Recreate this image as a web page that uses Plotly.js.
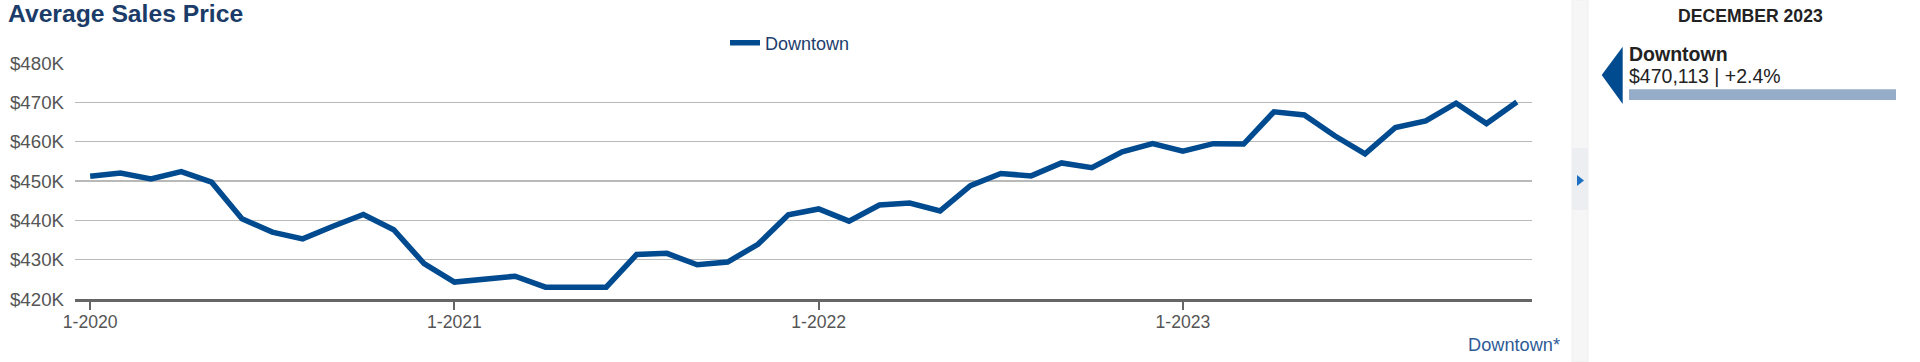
<!DOCTYPE html>
<html>
<head>
<meta charset="utf-8">
<script src="https://cdn.plot.ly/plotly-3.0.1.min.js"></script>
<style>
  html, body { margin: 0; padding: 0; background: #ffffff; }
  #chart { width: 1920px; height: 362px; }
</style>
</head>
<body>
<div id="chart"></div>
<script>
// ---- data ----
const months = [
  "1-2020","2-2020","3-2020","4-2020","5-2020","6-2020","7-2020","8-2020","9-2020","10-2020","11-2020","12-2020",
  "1-2021","2-2021","3-2021","4-2021","5-2021","6-2021","7-2021","8-2021","9-2021","10-2021","11-2021","12-2021",
  "1-2022","2-2022","3-2022","4-2022","5-2022","6-2022","7-2022","8-2022","9-2022","10-2022","11-2022","12-2022",
  "1-2023","2-2023","3-2023","4-2023","5-2023","6-2023","7-2023","8-2023","9-2023","10-2023","11-2023","12-2023"
];
// Average sales price, thousands of dollars
const downtown = [
  451.2, 452.0, 450.5, 452.4, 449.7, 440.4, 437.0, 435.3, 438.5, 441.5, 437.6, 429.0,
  424.3, 424.9, 425.8, 423.0, 423.1, 423.0, 431.3, 431.6, 428.7, 429.4, 433.9, 441.4,
  442.9, 439.8, 443.9, 444.4, 442.4, 448.8, 451.9, 451.3, 454.6, 453.4, 457.4, 459.5,
  457.6, 459.5, 459.4, 467.6, 466.8, 461.5, 456.9, 463.6, 465.3, 469.8, 464.6, 470.1
];
const seriesName = "Downtown";
const yearTicks = ["1-2020","1-2021","1-2022","1-2023"];
const yTicks = [420, 430, 440, 450, 460, 470, 480];
const yTickLabels = ["$420K","$430K","$440K","$450K","$460K","$470K","$480K"];
const chartTitle = "Average Sales Price";
const footnote = "Downtown*";
const panelPeriod = "DECEMBER 2023";
const panelValue = "$470,113 | +2.4%";

// ---- layout geometry ----
const W = 1920, H = 362;
const M = { l: 75, r: 388, t: 63, b: 63 };
const PW = W - M.l - M.r, PH = H - M.t - M.b;
const px = v => (v - M.l) / PW;          // pixel x -> paper x
const py = v => (H - M.b - v) / PH;      // pixel y -> paper y

const FONT = "Liberation Sans, Arial, Helvetica, sans-serif";
const NAVY = "#004a8f";

const trace = {
  type: "scatter",
  mode: "lines",
  x: months,
  y: downtown,
  name: seriesName,
  line: { color: NAVY, width: 5.5 },
  hoverinfo: "skip"
};

const layout = {
  width: W, height: H,
  margin: M,
  paper_bgcolor: "#ffffff",
  plot_bgcolor: "#ffffff",
  font: { family: FONT, color: "#555555" },
  title: {
    text: "<b>" + chartTitle + "</b>",
    font: { family: FONT, size: 24.7, color: "#1b3b68" },
    xref: "container", yref: "container",
    x: 8 / W, xanchor: "left",
    y: 1 - 13 / H, yanchor: "middle"
  },
  showlegend: true,
  legend: {
    orientation: "h",
    x: px(725), xanchor: "left",
    y: py(43), yanchor: "middle",
    font: { family: FONT, size: 18, color: "#1d3d6c" },
    bgcolor: "rgba(0,0,0,0)"
  },
  xaxis: {
    type: "category",
    categoryorder: "array",
    categoryarray: months,
    range: [-0.5, 47.5],
    tickmode: "array",
    tickvals: yearTicks,
    ticktext: yearTicks,
    ticks: "outside", ticklen: 8, tickwidth: 2, tickcolor: "#666666",
    showline: true, linecolor: "#666666", linewidth: 2.5,
    showgrid: false, zeroline: false,
    tickfont: { family: FONT, size: 17.6, color: "#555555" },
    ticklabelstandoff: -3,
    fixedrange: true
  },
  yaxis: {
    range: [420, 480],
    tickmode: "array",
    tickvals: yTicks,
    ticktext: yTickLabels,
    ticks: "",
    showgrid: true, gridcolor: "#b9b9b9", gridwidth: 1.5,
    zeroline: false, showline: false,
    tickfont: { family: FONT, size: 18.7, color: "#555555" },
    ticklabelstandoff: 10,
    fixedrange: true
  },
  shapes: [
    // divider strip
    { type: "rect", xref: "paper", yref: "paper", x0: px(1572), x1: px(1588), y0: py(0), y1: py(H),
      fillcolor: "#f6f6f6", line: { width: 1, color: "#efefef" }, layer: "below" },
    { type: "rect", xref: "paper", yref: "paper", x0: px(1572), x1: px(1588), y0: py(148), y1: py(210),
      fillcolor: "#eceef1", line: { width: 0 }, layer: "below" },
    { type: "path", xref: "paper", yref: "paper",
      path: "M " + px(1577) + " " + py(175) + " L " + px(1584) + " " + py(180.5) + " L " + px(1577) + " " + py(186) + " Z",
      fillcolor: "#1c6fc2", line: { width: 0 } },
    // big pointer triangle
    { type: "path", xref: "paper", yref: "paper",
      path: "M " + px(1622.7) + " " + py(46.7) + " L " + px(1622.7) + " " + py(104) + " L " + px(1601.7) + " " + py(75) + " Z",
      fillcolor: NAVY, line: { width: 0 } },
    // value bar
    { type: "rect", xref: "paper", yref: "paper", x0: px(1629), x1: px(1896), y0: py(89.3), y1: py(100),
      fillcolor: "#95adc9", line: { width: 0 } }
  ],
  annotations: [
    { xref: "paper", yref: "paper", x: px(1562), y: py(345), xanchor: "right", yanchor: "middle",
      text: footnote, showarrow: false, font: { family: FONT, size: 18.2, color: "#2e5b97" } },
    { xref: "paper", yref: "paper", x: px(1750.5), y: py(16.5), xanchor: "center", yanchor: "middle",
      text: "<b>" + panelPeriod + "</b>", showarrow: false, font: { family: FONT, size: 17.6, color: "#222222" } },
    { xref: "paper", yref: "paper", x: px(1627), y: py(53.5), xanchor: "left", yanchor: "middle",
      text: "<b>" + seriesName + "</b>", showarrow: false, font: { family: FONT, size: 19.5, color: "#222222" } },
    { xref: "paper", yref: "paper", x: px(1627), y: py(76), xanchor: "left", yanchor: "middle",
      text: panelValue, showarrow: false, font: { family: FONT, size: 19.5, color: "#222222" } }
  ]
};

Plotly.newPlot("chart", [trace], layout, { displayModeBar: false, staticPlot: true });
</script>
</body>
</html>
